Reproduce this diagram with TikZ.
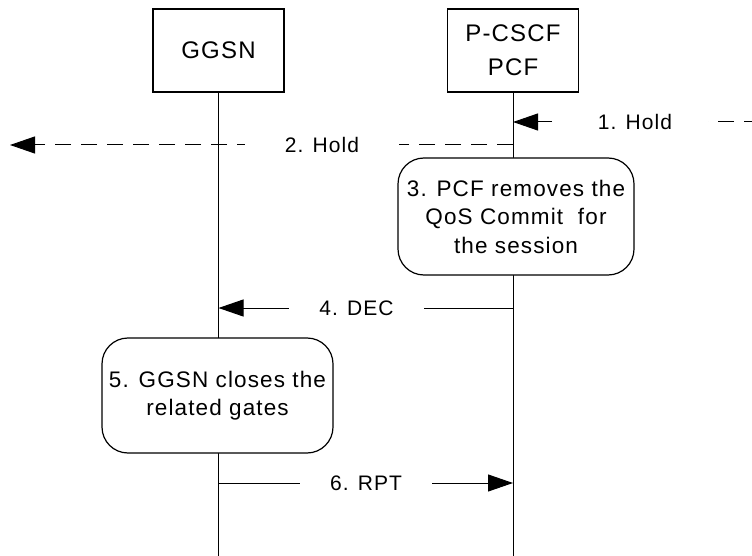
\documentclass[tikz,border=0pt]{standalone}
\usepackage{fontspec}
\setmainfont{Liberation Sans}[LetterSpace=5]
\usetikzlibrary{arrows.meta,positioning}

\begin{document}
\begin{tikzpicture}[x=1pt,y=-1pt,
  entity/.style={draw,line width=1.2pt,fill=white,minimum width=131pt,minimum height=83pt,align=center,font=\fontsize{24}{34}\selectfont},
  action/.style={draw,line width=1.2pt,fill=white,rounded corners=26pt,align=center,font=\fontsize{22.5}{28.5}\selectfont},
  msg/.style={line width=1pt,-{Triangle[length=25pt,width=17pt]}},
  lbl/.style={fill=white,inner xsep=30pt,inner ysep=3pt,font=\fontsize{21}{25}\selectfont}]
  \useasboundingbox (0,0) rectangle (752,556);
  % lifelines
  \node[entity] (ggsn) at (218.5,50.5) {GGSN};
  \node[entity] (pcscf) at (513,50.5) {P-CSCF\\PCF};
  \coordinate (ggsnend) at (218.5,556);
  \coordinate (pcscfend) at (513,556);
  \draw[line width=1pt] (ggsn.south) -- (ggsnend);
  \draw[line width=1pt] (pcscf.south) -- (pcscfend);
  % messages
  \coordinate (hold1start) at (760,122);
  \coordinate (hold1end) at (513,122);
  \draw[msg,dash pattern=on 16pt off 10pt] (hold1start) -- (hold1end);
  \node[lbl,inner xsep=36pt] (hold1) at (635,122) {1. Hold};
  \coordinate (hold2start) at (513,145);
  \coordinate (hold2end) at (10,145);
  \draw[msg,dash pattern=on 16pt off 10pt] (hold2start) -- (hold2end);
  \node[lbl,inner xsep=40pt] (hold2) at (322,145) {2. Hold};
  \node[action,minimum width=236pt,minimum height=117pt] (remove) at (516,216.5)
    {3. PCF removes the\\QoS Commit~ for\\the session};
  \draw[msg] (pcscf |- 0,308) -- (ggsn |- 0,308);
  \node[lbl,inner xsep=30pt] (dec) at (356.5,308) {4. DEC};
  \node[action,minimum width=231pt,minimum height=115pt] (close) at (217.5,395.5)
    {5. GGSN closes the\\related gates};
  \draw[msg] (ggsn |- 0,483) -- (pcscf |- 0,483);
  \node[lbl,inner xsep=30pt] (rpt) at (366,483) {6. RPT};
\end{tikzpicture}
\end{document}
